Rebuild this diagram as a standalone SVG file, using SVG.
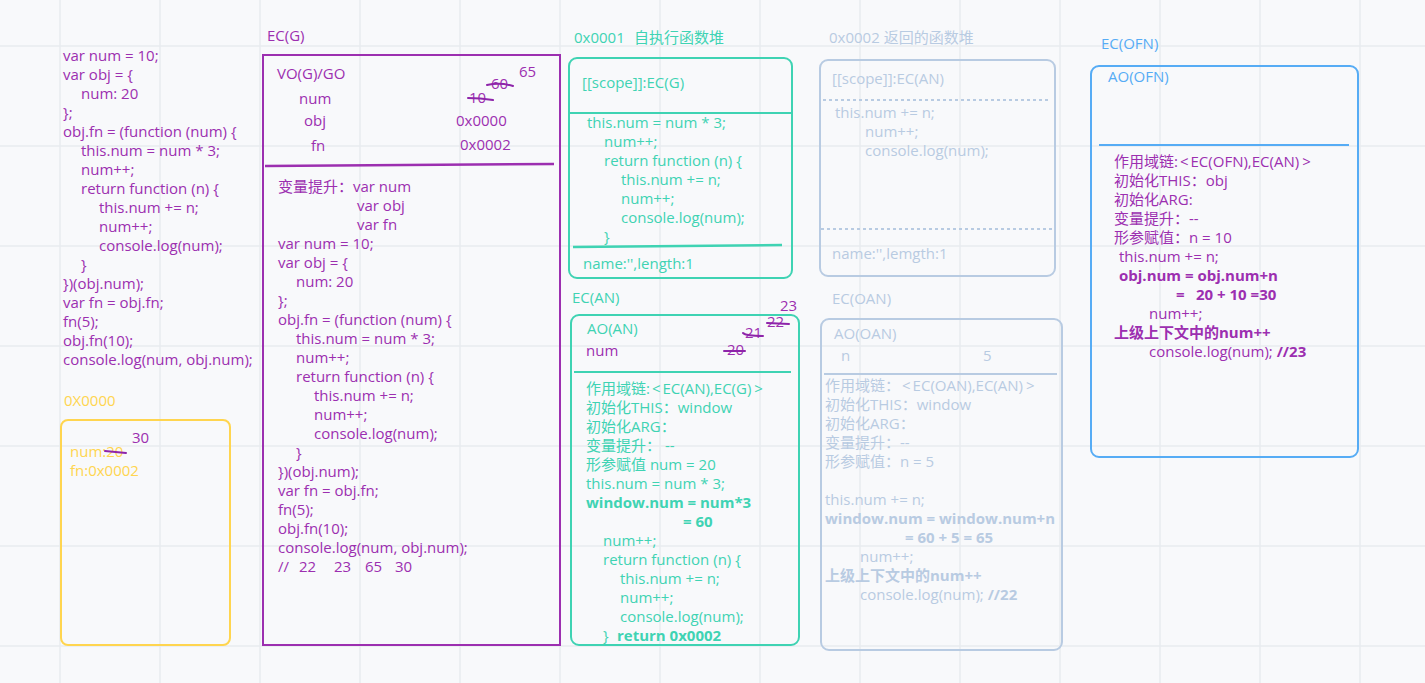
<svg xmlns="http://www.w3.org/2000/svg" width="1425" height="683" viewBox="0 0 1425 683">
<defs>
<style>
text{font-family:"Open Sans","Noto Sans CJK SC",sans-serif;font-size:15px}
.p{fill:#9c2fb0}
.t{fill:#3fd3b3}
.l{fill:#b8cbe2}
.b{fill:#56acf5}
.y{fill:#ffd54f}
.bd{font-weight:bold}
.grid{stroke:#e8ebef;stroke-width:1.5}
.strike{stroke:#8e24aa;stroke-width:2;fill:none;stroke-linecap:round}
</style>
</defs>
<rect width="1425" height="683" fill="#f8f9fb"/>
<g id="grid" class="grid">
<line x1="60" y1="0" x2="60" y2="683"/><line x1="160" y1="0" x2="160" y2="683"/><line x1="260" y1="0" x2="260" y2="683"/><line x1="360" y1="0" x2="360" y2="683"/><line x1="460" y1="0" x2="460" y2="683"/><line x1="560" y1="0" x2="560" y2="683"/><line x1="660" y1="0" x2="660" y2="683"/><line x1="760" y1="0" x2="760" y2="683"/><line x1="860" y1="0" x2="860" y2="683"/><line x1="960" y1="0" x2="960" y2="683"/><line x1="1060" y1="0" x2="1060" y2="683"/><line x1="1160" y1="0" x2="1160" y2="683"/><line x1="1260" y1="0" x2="1260" y2="683"/><line x1="1360" y1="0" x2="1360" y2="683"/>
<line x1="0" y1="46" x2="1425" y2="46"/><line x1="0" y1="146" x2="1425" y2="146"/><line x1="0" y1="246" x2="1425" y2="246"/><line x1="0" y1="346" x2="1425" y2="346"/><line x1="0" y1="446" x2="1425" y2="446"/><line x1="0" y1="546" x2="1425" y2="546"/><line x1="0" y1="646" x2="1425" y2="646"/>
</g>

<g id="source-code" class="p">
<text x="63" y="61">var num = 10;</text>
<text x="63" y="80">var obj = {</text>
<text x="81" y="99">num: 20</text>
<text x="63" y="118">};</text>
<text x="63" y="137">obj.fn = (function (num) {</text>
<text x="81" y="156">this.num = num * 3;</text>
<text x="81" y="175">num++;</text>
<text x="81" y="194">return function (n) {</text>
<text x="99" y="213">this.num += n;</text>
<text x="99" y="232">num++;</text>
<text x="99" y="251">console.log(num);</text>
<text x="81" y="270">}</text>
<text x="63" y="289">})(obj.num);</text>
<text x="63" y="308">var fn = obj.fn;</text>
<text x="63" y="327">fn(5);</text>
<text x="63" y="346">obj.fn(10);</text>
<text x="63" y="365">console.log(num, obj.num);</text>
</g>

<g id="heap-0x0000">
<text class="y" x="64" y="406">0X0000</text>
<rect x="61" y="420" width="169" height="225" rx="7" fill="none" stroke="#ffd54f" stroke-width="2"/>
<text class="y" x="70" y="457">num:20</text>
<text class="y" x="70" y="476">fn:0x0002</text>
<path class="strike" d="M105 451 L126 453"/>
<text class="p" x="132" y="443">30</text>
</g>

<g id="ec-g">
<text class="p" x="267" y="41">EC(G)</text>
<rect x="263" y="55" width="297" height="590" fill="none" stroke="#9c2fb0" stroke-width="2"/>
<text class="p" x="277" y="79">VO(G)/GO</text>
<text class="p" x="299" y="104">num</text>
<text class="p" x="304" y="126">obj</text>
<text class="p" x="311" y="151">fn</text>
<text class="p" x="519" y="77">65</text>
<text class="p" x="491" y="89">60</text>
<path class="strike" d="M487 85 Q500 82 513 86"/>
<text class="p" x="469" y="103">10</text>
<path class="strike" d="M468 98 Q480 98 493 100"/>
<text class="p" x="456" y="126">0x0000</text>
<text class="p" x="460" y="150">0x0002</text>
<path d="M265 166 L554 164" stroke="#9c2fb0" stroke-width="2.5" fill="none"/>
<text class="p" x="278" y="192">变量提升：var num</text>
<text class="p" x="357" y="211">var obj</text>
<text class="p" x="357" y="230">var fn</text>
<text class="p" x="278" y="249">var num = 10;</text>
<text class="p" x="278" y="268">var obj = {</text>
<text class="p" x="296" y="287">num: 20</text>
<text class="p" x="278" y="306">};</text>
<text class="p" x="278" y="325">obj.fn = (function (num) {</text>
<text class="p" x="296" y="344">this.num = num * 3;</text>
<text class="p" x="296" y="363">num++;</text>
<text class="p" x="296" y="382">return function (n) {</text>
<text class="p" x="314" y="401">this.num += n;</text>
<text class="p" x="314" y="420">num++;</text>
<text class="p" x="314" y="439">console.log(num);</text>
<text class="p" x="296" y="458">}</text>
<text class="p" x="278" y="477">})(obj.num);</text>
<text class="p" x="278" y="496">var fn = obj.fn;</text>
<text class="p" x="278" y="515">fn(5);</text>
<text class="p" x="278" y="534">obj.fn(10);</text>
<text class="p" x="278" y="553">console.log(num, obj.num);</text>
<text class="p" y="572"><tspan x="278">//</tspan><tspan x="299">22</tspan><tspan x="334">23</tspan><tspan x="365">65</tspan><tspan x="395">30</tspan></text>
</g>

<g id="heap-0x0001">
<text class="t" y="43"><tspan x="574">0x0001</tspan><tspan x="634">自执行函数堆</tspan></text>
<rect x="569" y="58" width="223" height="220" rx="8" fill="none" stroke="#3fd3b3" stroke-width="2"/>
<text class="t" x="582" y="88">[[scope]]:EC(G)</text>
<line x1="569" y1="113" x2="792" y2="113" stroke="#3fd3b3" stroke-width="2"/>
<text class="t" x="587" y="128">this.num = num * 3;</text>
<text class="t" x="604" y="147">num++;</text>
<text class="t" x="604" y="166">return function (n) {</text>
<text class="t" x="621" y="185">this.num += n;</text>
<text class="t" x="621" y="204">num++;</text>
<text class="t" x="621" y="223">console.log(num);</text>
<text class="t" x="604" y="242">}</text>
<path d="M573 247 L782 245" stroke="#3fd3b3" stroke-width="2.5" fill="none"/>
<text class="t" x="583" y="269">name:'',length:1</text>
</g>

<g id="heap-0x0002">
<text class="l" x="829" y="43">0x0002 返回的函数堆</text>
<rect x="820" y="60" width="235" height="216" rx="8" fill="none" stroke="#b8cbe2" stroke-width="2"/>
<text class="l" x="832" y="84">[[scope]]:EC(AN)</text>
<line x1="823" y1="100" x2="1051" y2="100" stroke="#b8cbe2" stroke-width="2" stroke-dasharray="3 3"/>
<text class="l" x="835" y="118">this.num += n;</text>
<text class="l" x="865" y="137">num++;</text>
<text class="l" x="865" y="156">console.log(num);</text>
<line x1="821" y1="229" x2="1053" y2="229" stroke="#b8cbe2" stroke-width="2" stroke-dasharray="3 3"/>
<text class="l" x="832" y="259">name:'',lemgth:1</text>
</g>

<g id="ec-an">
<text class="t" x="572" y="303">EC(AN)</text>
<rect x="571" y="315" width="228" height="330" rx="8" fill="none" stroke="#3fd3b3" stroke-width="2"/>
<text class="t" x="587" y="334">AO(AN)</text>
<text class="p" x="586" y="356">num</text>
<text class="p" x="727" y="355">20</text>
<path class="strike" d="M724 351 L745 351"/>
<text class="p" x="745" y="338">21</text>
<path class="strike" d="M743 333 Q746 336 763 336"/>
<text class="p" x="767" y="327">22</text>
<path class="strike" d="M767 323 L789 324"/>
<text class="p" x="780" y="311">23</text>
<line x1="574" y1="372" x2="791" y2="372" stroke="#3fd3b3" stroke-width="2"/>
<text class="t" x="586" y="394">作用域链:<tspan dx="2">&lt;</tspan><tspan dx="2">EC(AN),EC(G)</tspan><tspan dx="3">&gt;</tspan></text>
<text class="t" x="586" y="413">初始化THIS：window</text>
<text class="t" x="586" y="432">初始化ARG：</text>
<text class="t" x="586" y="451">变量提升： --</text>
<text class="t" x="586" y="470">形参赋值 num = 20</text>
<text class="t" x="586" y="489">this.num = num * 3;</text>
<text class="t bd" x="586" y="508">window.num = num*3</text>
<text class="t bd" x="683" y="527">= 60</text>
<text class="t" x="603" y="546">num++;</text>
<text class="t" x="603" y="565">return function (n) {</text>
<text class="t" x="620" y="584">this.num += n;</text>
<text class="t" x="620" y="603">num++;</text>
<text class="t" x="620" y="622">console.log(num);</text>
<text class="t" x="603" y="641">}</text>
<text class="t bd" x="617" y="641">return 0x0002</text>
</g>

<g id="ec-oan">
<text class="l" x="832" y="304">EC(OAN)</text>
<rect x="821" y="319" width="241" height="331" rx="8" fill="none" stroke="#b8cbe2" stroke-width="2"/>
<text class="l" x="834" y="339">AO(OAN)</text>
<text class="l" x="841" y="361">n</text>
<text class="l" x="983" y="361">5</text>
<line x1="824" y1="374" x2="1057" y2="374" stroke="#b8cbe2" stroke-width="2"/>
<text class="l" x="825" y="391">作用域链：<tspan dx="2">&lt;</tspan><tspan dx="2">EC(OAN),EC(AN)</tspan><tspan dx="3">&gt;</tspan></text>
<text class="l" x="825" y="410">初始化THIS：window</text>
<text class="l" x="825" y="429">初始化ARG：</text>
<text class="l" x="825" y="448">变量提升：--</text>
<text class="l" x="825" y="467">形参赋值：n = 5</text>
<text class="l" x="825" y="505">this.num += n;</text>
<text class="l bd" x="825" y="524">window.num = window.num+n</text>
<text class="l bd" x="905" y="543">= 60 + 5 = 65</text>
<text class="l" x="860" y="562">num++;</text>
<text class="l bd" x="825" y="581">上级上下文中的num++</text>
<text class="l" x="860" y="600">console.log(num); <tspan class="bd">//22</tspan></text>
</g>

<g id="ec-ofn">
<text class="b" x="1101" y="49">EC(OFN)</text>
<rect x="1091" y="66" width="267" height="391" rx="8" fill="none" stroke="#56acf5" stroke-width="2"/>
<text class="b" x="1108" y="82">AO(OFN)</text>
<line x1="1099" y1="145" x2="1349" y2="145" stroke="#56acf5" stroke-width="2"/>
<text class="p" x="1114" y="167">作用域链:<tspan dx="2">&lt;</tspan><tspan dx="2">EC(OFN),EC(AN)</tspan><tspan dx="3">&gt;</tspan></text>
<text class="p" x="1114" y="186">初始化THIS：obj</text>
<text class="p" x="1114" y="205">初始化ARG:</text>
<text class="p" x="1114" y="224">变量提升：--</text>
<text class="p" x="1114" y="243">形参赋值：n = 10</text>
<text class="p" x="1119" y="262">this.num += n;</text>
<text class="p bd" x="1119" y="281">obj.num = obj.num+n</text>
<text class="p bd" y="300"><tspan x="1176">=</tspan><tspan x="1196">20 + 10 =30</tspan></text>
<text class="p" x="1149" y="319">num++;</text>
<text class="p bd" x="1114" y="338">上级上下文中的num++</text>
<text class="p" x="1149" y="357">console.log(num); <tspan class="bd">//23</tspan></text>
</g>

<g id="connectors"></g>
</svg>
